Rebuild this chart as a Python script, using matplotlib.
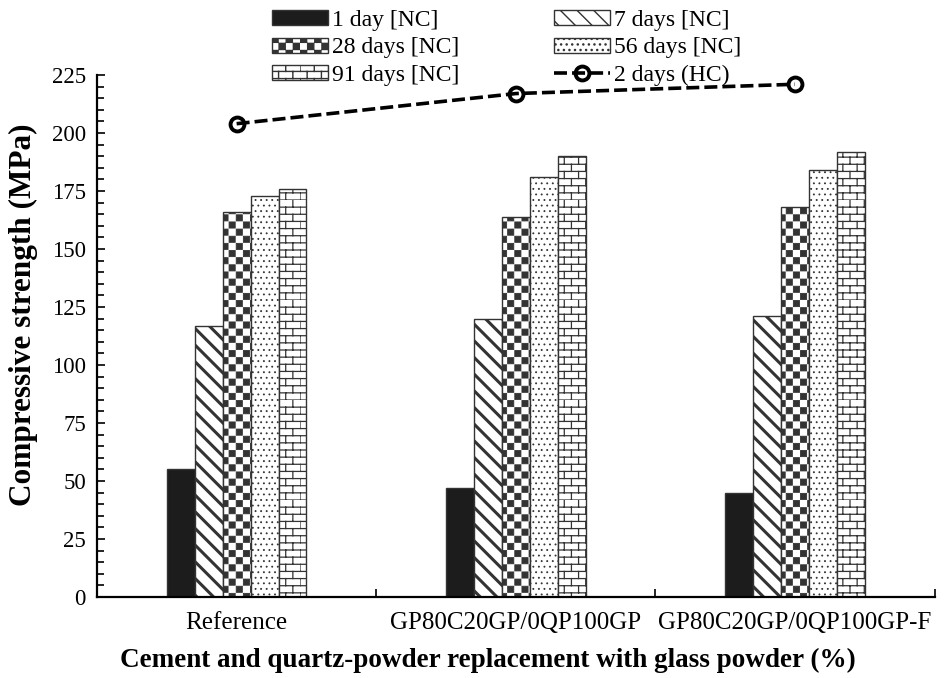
import warnings
import numpy as np
import matplotlib
matplotlib.use("Agg")
import matplotlib.pyplot as plt
from matplotlib import hatch as mhatch
from matplotlib.path import Path
from matplotlib.ticker import MultipleLocator

warnings.filterwarnings("ignore")

# Data
categories = ["Reference", "GP80C20GP/0QP100GP", "GP80C20GP/0QP100GP-F"]
series_labels = ["1 day [NC]", "7 days [NC]", "28 days [NC]", "56 days [NC]", "91 days [NC]"]
day1 = [55, 47, 45]
day7 = [117, 120, 121]
day28 = [166, 164, 168]
day56 = [173, 181, 184]
day91 = [176, 190, 192]
hc_label = "2 days (HC)"
hc_2days = [204, 217, 221]


# custom hatch patterns: checkerboard ('c') and brick wall ('b')
class CheckerHatch(mhatch.HatchPatternBase):
    def __init__(self, hatch, density):
        self.n = hatch.count("c") * 14
        self.num_vertices = (self.n * self.n // 2) * 5

    def set_vertices_and_codes(self, vertices, codes):
        s = 1.0 / self.n
        sq = np.array([[0, 0], [s, 0], [s, s], [0, s], [0, 0]]) * 0.86 + s * 0.07
        cd = [Path.MOVETO, Path.LINETO, Path.LINETO, Path.LINETO, Path.CLOSEPOLY]
        k = 0
        for i in range(self.n):
            for j in range(self.n):
                if (i + j) % 2 == 0:
                    vertices[k:k + 5] = sq + [i * s, j * s]
                    codes[k:k + 5] = cd
                    k += 5


class BrickHatch(mhatch.HatchPatternBase):
    def __init__(self, hatch, density):
        self.nr = hatch.count("b") * 14
        self.nc = hatch.count("b") * 7
        self.num_vertices = self.nr * 2 + self.nr * self.nc * 2

    def set_vertices_and_codes(self, vertices, codes):
        k = 0
        for i in range(self.nr):
            y = i / self.nr
            vertices[k:k + 2] = [[0, y], [1, y]]
            codes[k:k + 2] = [Path.MOVETO, Path.LINETO]
            k += 2
            off = (i % 2) * 0.5 / self.nc
            for j in range(self.nc):
                x = j / self.nc + off
                vertices[k:k + 2] = [[x, y], [x, y + 1 / self.nr]]
                codes[k:k + 2] = [Path.MOVETO, Path.LINETO]
                k += 2


mhatch._hatch_types.extend([CheckerHatch, BrickHatch])

plt.rcParams["font.family"] = ["Liberation Serif", "DejaVu Serif"]
plt.rcParams["hatch.color"] = "#111111"

fig = plt.figure(figsize=(9.44, 6.78), dpi=100)
ax = fig.add_axes([0.1028, 0.1195, 0.8872, 0.7699])

x = np.arange(len(categories))
width = 0.1
values = [day1, day7, day28, day56, day91]
styles = [
    dict(color="#1c1c1c", hatch=None, hlw=1.0),
    dict(color="white", hatch="\\\\", hlw=2.2),
    dict(color="white", hatch="c", hlw=0.6),
    dict(color="white", hatch="...", hlw=0.6),
    dict(color="white", hatch="b", hlw=0.9),
]
handles = []
for i, (vals, st) in enumerate(zip(values, styles)):
    with plt.rc_context({"hatch.linewidth": st["hlw"]}):
        bars = ax.bar(x + (i - 2) * width, vals, width, color=st["color"],
                      edgecolor="#333333", linewidth=1.0, hatch=st["hatch"],
                      label=series_labels[i], zorder=2)
    for b in bars:
        if hasattr(b, "set_hatch_linewidth"):
            b.set_hatch_linewidth(st["hlw"])
    handles.append(bars)

line, = ax.plot(x, hc_2days, color="black", linewidth=2.6, dashes=(3.6, 1.4),
                marker="o", markersize=10, markerfacecolor="none",
                markeredgewidth=2.8, label=hc_label, zorder=3)

ax.set_xlim(-0.5, 2.5)
ax.set_ylim(0, 225)
ax.yaxis.set_major_locator(MultipleLocator(25))
ax.yaxis.set_minor_locator(MultipleLocator(5))
ax.set_xticks(x)
ax.set_xticklabels(categories)
ax.set_xticks([0.5, 1.5, 2.5], minor=True)
ax.tick_params(axis="x", which="major", length=0, pad=11, labelsize=18)
ax.tick_params(axis="x", which="minor", direction="in", length=6, width=1.2)
ax.tick_params(axis="y", which="major", direction="in", length=6, width=1.2,
               labelsize=16.5, pad=8)
ax.tick_params(axis="y", which="minor", direction="in", length=5, width=1.2)
for s in ["top", "right"]:
    ax.spines[s].set_visible(False)
for s in ["left", "bottom"]:
    ax.spines[s].set_linewidth(1.6)

ax.set_ylabel("Compressive strength (MPa)", fontsize=22.5, fontweight="bold")
ax.yaxis.set_label_coords(-0.071, 0.54)
ax.set_xlabel("Cement and quartz-powder replacement with glass powder (%)",
              fontsize=19.5, fontweight="bold")
ax.xaxis.set_label_coords(0.467, -0.097)

# legend: column-major order for ncol=2
order = [handles[0], handles[2], handles[4], handles[1], handles[3], line]
labels = [series_labels[0], series_labels[2], series_labels[4],
          series_labels[1], series_labels[3], hc_label]
fig.legend(order, labels, ncol=2, loc="upper center",
           bbox_to_anchor=(0.537, 1.01), frameon=False, fontsize=17,
           handlelength=2.35, handleheight=0.6, handletextpad=0.2,
           columnspacing=4.0, labelspacing=0.28, borderpad=0.2)

fig.savefig("out.png", dpi=100)
